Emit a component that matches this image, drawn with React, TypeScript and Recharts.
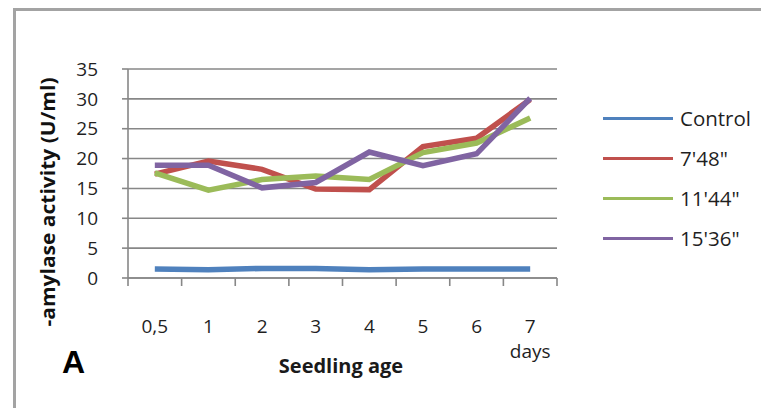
import React from 'react';
import { LineChart, Line, XAxis, YAxis, CartesianGrid } from 'recharts';

const categories = ['0,5', '1', '2', '3', '4', '5', '6', '7'];
const control = [1.5, 1.4, 1.6, 1.6, 1.4, 1.5, 1.5, 1.5];
const s748 = [17.4, 19.6, 18.2, 14.9, 14.8, 22.0, 23.4, 29.9];
const s1144 = [17.6, 14.7, 16.5, 17.1, 16.5, 21.0, 22.6, 26.8];
const s1536 = [18.9, 18.9, 15.1, 16.0, 21.1, 18.8, 20.8, 30.1];
const yTicks = [0, 5, 10, 15, 20, 25, 30, 35];

const seriesNames = ['Control', "7'48\"", "11'44\"", "15'36\""];
const seriesKeys = ['control', 's748', 's1144', 's1536'];
const seriesColors = ['#4F81BD', '#C0504D', '#9BBB59', '#8064A2'];

const data = categories.map((c, i) => ({
  cat: c,
  pos: i + 0.5,
  control: control[i],
  s748: s748[i],
  s1144: s1144[i],
  s1536: s1536[i],
}));

const xTicks: number[] = [];
for (let i = 0; i <= categories.length * 2; i++) xTicks.push(i / 2);

const AXIS = '#878787';
const FONT = "'Open Sans', sans-serif";
const TEXT = '#1f1f1f';

const XTick = (props: any) => {
  const { x, y, payload } = props;
  const v = payload.value as number;
  if (Number.isInteger(v)) {
    return <line x1={x} y1={y} x2={x} y2={y + 8} stroke={AXIS} strokeWidth={1.6} />;
  }
  const idx = Math.floor(v);
  return (
    <g>
      <text x={x} y={y + 55} textAnchor="middle" fontFamily={FONT} fontSize={19} fill={TEXT}>
        {categories[idx]}
      </text>
      {idx === categories.length - 1 && (
        <text x={x} y={y + 80} textAnchor="middle" fontFamily={FONT} fontSize={19} fill={TEXT}>
          days
        </text>
      )}
    </g>
  );
};

export default function App() {
  return (
    <div
      style={{
        position: 'absolute',
        left: 0,
        top: 0,
        width: 761,
        height: 408,
        background: '#fff',
        overflow: 'hidden',
      }}
    >
      <div
        style={{
          position: 'absolute',
          left: 13,
          top: 8,
          width: 900,
          height: 500,
          borderLeft: '3px solid #a3a3a3',
          borderTop: '3px solid #a3a3a3',
        }}
      />
      <div style={{ position: 'absolute', left: 0, top: 0 }}>
        <LineChart width={761} height={408} data={data} margin={{ top: 69, right: 204, left: 0, bottom: 0 }}>
          <CartesianGrid vertical={false} stroke={AXIS} strokeWidth={1.6} />
          <XAxis
            dataKey="pos"
            type="number"
            domain={[0, categories.length]}
            ticks={xTicks}
            interval={0}
            height={130}
            tickLine={false}
            tickSize={0}
            tickMargin={0}
            tick={<XTick />}
            axisLine={{ stroke: AXIS, strokeWidth: 1.6 }}
          />
          <YAxis
            width={128}
            domain={[0, 35]}
            ticks={yTicks}
            interval={0}
            tickSize={6}
            tickMargin={24}
            tickLine={{ stroke: AXIS, strokeWidth: 1.6 }}
            axisLine={{ stroke: AXIS, strokeWidth: 1.6 }}
            tick={{ fontFamily: FONT, fontSize: 19, fill: TEXT }}
          />
          {seriesKeys.map((k, i) => (
            <Line
              key={k}
              dataKey={k}
              name={seriesNames[i]}
              stroke={seriesColors[i]}
              strokeWidth={5.5}
              dot={false}
              activeDot={false}
              type="linear"
              isAnimationActive={false}
            />
          ))}
        </LineChart>
      </div>
      <div
        style={{
          position: 'absolute',
          left: 603,
          top: 98,
          fontFamily: FONT,
          fontSize: 20.5,
          color: TEXT,
        }}
      >
        {seriesNames.map((n, i) => (
          <div key={n} style={{ display: 'flex', alignItems: 'center', height: 40 }}>
            <div style={{ width: 70, height: 3, background: seriesColors[i], marginRight: 7 }} />
            <span style={{ lineHeight: '20px', whiteSpace: 'nowrap' }}>{n}</span>
          </div>
        ))}
      </div>
      <svg width={761} height={408} style={{ position: 'absolute', left: 0, top: 0, pointerEvents: 'none' }}>
        <text
          transform="translate(55,202) rotate(-90)"
          textAnchor="middle"
          fontFamily={FONT}
          fontWeight="bold"
          fontSize={19}
          fill="#111"
          textLength={249}
          lengthAdjust="spacingAndGlyphs"
        >
          -amylase activity (U/ml)
        </text>
        <text x={341} y={373} textAnchor="middle" fontFamily={FONT} fontWeight="bold" fontSize={20} fill="#1a1a1a">
          Seedling age
        </text>
        <text x={62} y={373} fontFamily="'Liberation Sans', Arial, sans-serif" fontWeight="bold" fontSize={32} fill="#000">
          A
        </text>
      </svg>
    </div>
  );
}
